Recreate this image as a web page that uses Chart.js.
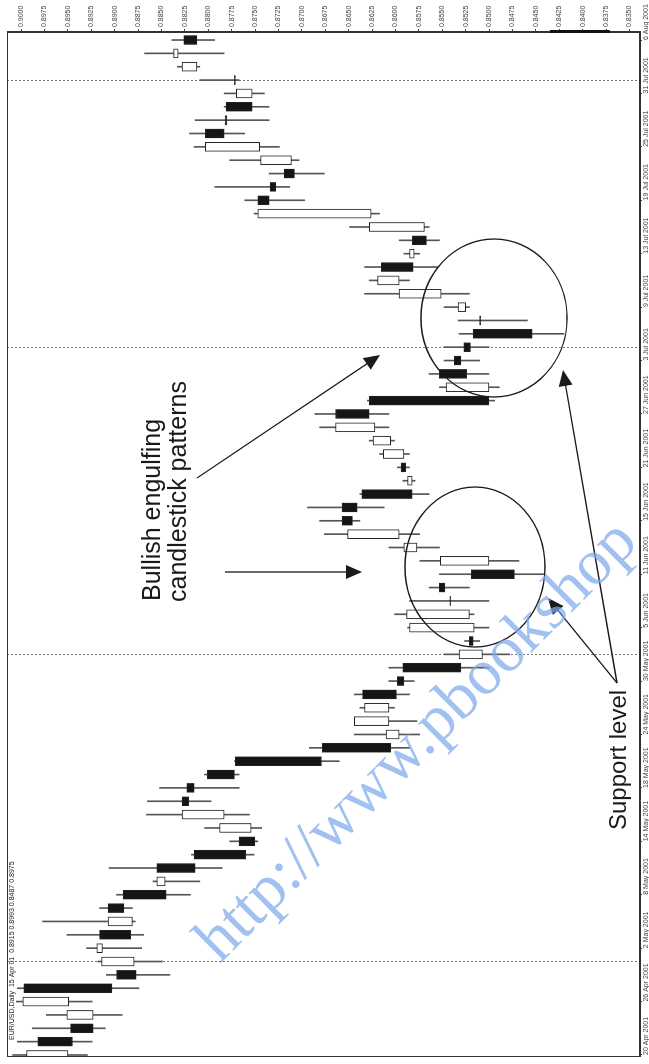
<!DOCTYPE html>
<html>
<head>
<meta charset="utf-8">
<script src="https://cdn.jsdelivr.net/npm/chart.js@4/dist/chart.umd.min.js"></script>
<style>
  html, body { margin: 0; padding: 0; background: #fff; overflow: hidden; width: 649px; height: 1064px; }
  /* the chart is laid out landscape and turned a quarter to the left, like the book page */
  #wrap {
    position: absolute; left: 0; top: 0; width: 1064px; height: 649px;
    transform-origin: 0 0; transform: translateY(1064px) rotate(-90deg);
  }
</style>
</head>
<body>
<div id="wrap"><canvas id="chart" width="1064" height="649"></canvas></div>
<script>
// EUR/USD daily, 20 Apr 2001 - 6 Aug 2001 (one value per trading day)
const opens = [
  0.8950, 0.8982, 0.8947, 0.8923, 0.8949, 0.8997, 0.8898, 0.8879, 0.8913, 0.8916,
  0.8881, 0.8907, 0.8891, 0.8846, 0.8855, 0.8815, 0.8767, 0.8754, 0.8783, 0.8828,
  0.8823, 0.8801, 0.8771, 0.8678, 0.8596, 0.8607, 0.8607, 0.8635, 0.8598, 0.8592,
  0.8507, 0.8521, 0.8516, 0.8521, 0.8542, 0.8553, 0.8519, 0.8500, 0.8577, 0.8596,
  0.8657, 0.8657, 0.8636, 0.8582, 0.8594, 0.8591, 0.8605, 0.8622, 0.8664, 0.8628,
  0.8500, 0.8553, 0.8537, 0.8527, 0.8517, 0.8510, 0.8525, 0.8551, 0.8596, 0.8615,
  0.8580, 0.8582, 0.8569, 0.8626, 0.8747, 0.8734, 0.8719, 0.8711, 0.8745, 0.8803,
  0.8782, 0.8781, 0.8753, 0.8772, 0.8812, 0.8832, 0.8826
];
const highs = [
  0.9009, 0.9004, 0.8988, 0.8973, 0.9005, 0.9004, 0.8909, 0.8918, 0.8930, 0.8951,
  0.8977, 0.8916, 0.8898, 0.8859, 0.8906, 0.8818, 0.8777, 0.8804, 0.8866, 0.8865,
  0.8852, 0.8804, 0.8772, 0.8692, 0.8644, 0.8644, 0.8638, 0.8644, 0.8607, 0.8607,
  0.8548, 0.8526, 0.8587, 0.8601, 0.8585, 0.8564, 0.8553, 0.8574, 0.8607, 0.8676,
  0.8681, 0.8694, 0.8638, 0.8592, 0.8598, 0.8617, 0.8628, 0.8681, 0.8686, 0.8630,
  0.8553, 0.8564, 0.8548, 0.8548, 0.8532, 0.8533, 0.8548, 0.8633, 0.8628, 0.8633,
  0.8591, 0.8596, 0.8649, 0.8751, 0.8761, 0.8793, 0.8735, 0.8777, 0.8815, 0.8820,
  0.8814, 0.8783, 0.8783, 0.8809, 0.8833, 0.8868, 0.8839
];
const lows = [
  0.8929, 0.8924, 0.8910, 0.8892, 0.8924, 0.8874, 0.8841, 0.8849, 0.8871, 0.8869,
  0.8878, 0.8881, 0.8819, 0.8809, 0.8785, 0.8751, 0.8747, 0.8743, 0.8756, 0.8797,
  0.8767, 0.8767, 0.8660, 0.8585, 0.8574, 0.8577, 0.8601, 0.8585, 0.8580, 0.8500,
  0.8478, 0.8510, 0.8500, 0.8516, 0.8500, 0.8521, 0.8441, 0.8468, 0.8553, 0.8574,
  0.8638, 0.8612, 0.8564, 0.8579, 0.8585, 0.8585, 0.8601, 0.8607, 0.8607, 0.8494,
  0.8489, 0.8500, 0.8510, 0.8500, 0.8420, 0.8459, 0.8521, 0.8521, 0.8585, 0.8555,
  0.8574, 0.8553, 0.8564, 0.8617, 0.8697, 0.8713, 0.8676, 0.8703, 0.8724, 0.8761,
  0.8735, 0.8735, 0.8740, 0.8767, 0.8809, 0.8783, 0.8793
];
const closes = [
  0.8994, 0.8945, 0.8923, 0.8951, 0.8998, 0.8903, 0.8877, 0.8914, 0.8919, 0.8883,
  0.8907, 0.8890, 0.8845, 0.8855, 0.8814, 0.8760, 0.8750, 0.8788, 0.8828, 0.8821,
  0.8815, 0.8772, 0.8679, 0.8605, 0.8610, 0.8644, 0.8633, 0.8599, 0.8591, 0.8530,
  0.8532, 0.8517, 0.8585, 0.8588, 0.8541, 0.8547, 0.8473, 0.8552, 0.8591, 0.8651,
  0.8646, 0.8641, 0.8582, 0.8587, 0.8589, 0.8613, 0.8624, 0.8664, 0.8628, 0.8500,
  0.8546, 0.8524, 0.8530, 0.8520, 0.8454, 0.8509, 0.8533, 0.8596, 0.8619, 0.8581,
  0.8585, 0.8567, 0.8628, 0.8747, 0.8735, 0.8728, 0.8708, 0.8744, 0.8803, 0.8783,
  0.8780, 0.8753, 0.8770, 0.8771, 0.8828, 0.8837, 0.8812
];

// date axis: a label on every fourth trading day
const dateLabels = [
  '20 Apr 2001', '26 Apr 2001', '2 May 2001', '8 May 2001', '14 May 2001',
  '18 May 2001', '24 May 2001', '30 May 2001', '5 Jun 2001', '11 Jun 2001',
  '15 Jun 2001', '21 Jun 2001', '27 Jun 2001', '3 Jul 2001', '9 Jul 2001',
  '13 Jul 2001', '19 Jul 2001', '25 Jul 2001', '31 Jul 2001', '6 Aug 2001'
];
const labelEvery = 4;
// dotted period separators (trading-day index)
const periodBreaks = [7, 30, 53, 73];

const priceTicks = [
  0.8350, 0.8375, 0.8400, 0.8425, 0.8450, 0.8475, 0.8500, 0.8525, 0.8550,
  0.8575, 0.8600, 0.8625, 0.8650, 0.8675, 0.8700, 0.8725, 0.8750, 0.8775,
  0.8800, 0.8825, 0.8850, 0.8875, 0.8900, 0.8925, 0.8950, 0.8975, 0.9000
];
// dark band drawn on the price axis
const axisBand = [0.8371, 0.8435];

const headerText = 'EUR/USD,Daily  15 Apr 01  0.8915 0.8993 0.8487 0.8975';

const bodies = opens.map((o, i) => ({ x: i, y: [o, closes[i] === o ? o - 0.00004 : closes[i]] }));
const wicks = lows.map((l, i) => ({ x: i, y: [l, highs[i]] }));

const tickFont = { family: '"Liberation Sans", Arial, sans-serif', size: 7 };

// outer frame around the plot, plus the band on the price axis
const framePlugin = {
  id: 'frame',
  afterDatasetsDraw(chart) {
    const { ctx, chartArea: a, scales } = chart;
    ctx.save();
    ctx.strokeStyle = '#333';
    ctx.lineWidth = 1;
    ctx.strokeRect(a.left + 0.5, a.top + 0.5, a.right - a.left - 1, a.bottom - a.top - 1);
    const y1 = scales.y.getPixelForValue(axisBand[1]);
    const y2 = scales.y.getPixelForValue(axisBand[0]);
    ctx.fillStyle = '#111';
    ctx.fillRect(a.right - 1, y1, 3, y2 - y1);
    ctx.restore();
  },
};

function arrow(ctx, x1, y1, x2, y2) {
  const ang = Math.atan2(y2 - y1, x2 - x1);
  const len = 16, half = 7;
  ctx.beginPath();
  ctx.moveTo(x1, y1);
  ctx.lineTo(x2 - Math.cos(ang) * len * 0.8, y2 - Math.sin(ang) * len * 0.8);
  ctx.stroke();
  ctx.beginPath();
  ctx.moveTo(x2, y2);
  ctx.lineTo(x2 - Math.cos(ang) * len - Math.sin(ang) * half, y2 - Math.sin(ang) * len + Math.cos(ang) * half);
  ctx.lineTo(x2 - Math.cos(ang) * len + Math.sin(ang) * half, y2 - Math.sin(ang) * len - Math.cos(ang) * half);
  ctx.closePath();
  ctx.fill();
}

// book annotations: circles, arrows, captions, watermark
const notesPlugin = {
  id: 'notes',
  afterDraw(chart) {
    const { ctx, chartArea: a } = chart;
    ctx.save();

    ctx.fillStyle = '#222';
    ctx.font = '7px "Liberation Sans", Arial, sans-serif';
    ctx.textBaseline = 'top';
    ctx.fillText(headerText, a.left + 17, a.top + 2);

    ctx.strokeStyle = '#1a1a1a';
    ctx.fillStyle = '#1a1a1a';
    ctx.lineWidth = 1.3;
    ctx.beginPath();
    ctx.ellipse(497, 475, 80, 70, 0, 0, Math.PI * 2);
    ctx.stroke();
    ctx.beginPath();
    ctx.ellipse(746, 494, 79, 73, 0, 0, Math.PI * 2);
    ctx.stroke();

    arrow(ctx, 586, 197, 709, 380);
    arrow(ctx, 492, 225, 492, 362);
    arrow(ctx, 381, 617, 466, 548);
    arrow(ctx, 381, 617, 694, 563);

    ctx.textBaseline = 'alphabetic';
    ctx.font = '25px "Liberation Sans", Arial, sans-serif';
    ctx.fillText('Bullish engulfing', 463, 160);
    ctx.fillText('candlestick patterns', 462, 186);
    ctx.font = '24px "Liberation Sans", Arial, sans-serif';
    ctx.fillText('Support level', 234, 626);

    ctx.translate(100, 220);
    ctx.rotate(45 * Math.PI / 180);
    ctx.fillStyle = 'rgba(125, 170, 235, 0.72)';
    ctx.font = '65px "Liberation Serif", "Times New Roman", serif';
    ctx.fillText('http://www.pbookshop', 0, 0);
    ctx.restore();
  },
};

const noPad = (s) => { s.paddingLeft = 0; s.paddingRight = 0; };

new Chart(document.getElementById('chart'), {
  type: 'bar',
  data: {
    datasets: [
      {
        label: 'Body',
        data: bodies,
        xAxisID: 'x',
        order: 0,
        grouped: false,
        barThickness: 9,
        borderWidth: 1,
        borderSkipped: false,
        borderColor: '#222',
        backgroundColor: (c) => (closes[c.dataIndex] < opens[c.dataIndex] ? '#151515' : '#ffffff'),
      },
      {
        label: 'Range',
        data: wicks,
        xAxisID: 'x',
        order: 1,
        grouped: false,
        barThickness: 1,
        borderWidth: 0,
        backgroundColor: '#555',
      },
    ],
  },
  options: {
    responsive: false,
    devicePixelRatio: 1,
    animation: false,
    layout: { padding: { left: 7, top: 7, right: 0, bottom: 0 } },
    plugins: { legend: { display: false }, tooltip: { enabled: false } },
    scales: {
      x: {
        type: 'linear',
        position: 'bottom',
        min: -0.15,
        max: 76.6,
        offset: false,
        grid: { drawOnChartArea: false, offset: false, tickLength: 2, color: '#444' },
        border: { color: '#333' },
        ticks: {
          autoSkip: false,
          maxRotation: 0,
          align: 'start',
          padding: 0,
          font: tickFont,
          color: '#444',
          callback: (v, i) => dateLabels[i],
        },
        afterBuildTicks: (s) => { s.ticks = dateLabels.map((d, i) => ({ value: i * labelEvery })); },
        afterFit: (s) => { s.height = 9; noPad(s); },
      },
      breaks: {
        type: 'linear',
        position: 'bottom',
        min: -0.15,
        max: 76.6,
        offset: false,
        ticks: { display: false },
        grid: { drawOnChartArea: true, drawTicks: false, offset: false, color: '#777', lineWidth: 1 },
        border: { display: false, dash: [2, 2] },
        afterBuildTicks: (s) => { s.ticks = periodBreaks.map((v) => ({ value: v })); },
        afterFit: (s) => { s.height = 0; noPad(s); },
      },
      y: {
        type: 'linear',
        position: 'right',
        min: 0.83387,
        max: 0.9015,
        grid: { drawOnChartArea: false, tickLength: 3, color: '#444' },
        border: { color: '#333' },
        ticks: {
          autoSkip: false,
          padding: 2,
          font: tickFont,
          color: '#444',
          callback: (v) => v.toFixed(4),
        },
        afterBuildTicks: (s) => { s.ticks = priceTicks.map((v) => ({ value: v })); },
        afterFit: (s) => { s.width = 32; },
      },
    },
  },
  plugins: [framePlugin, notesPlugin],
});
</script>
</body>
</html>
